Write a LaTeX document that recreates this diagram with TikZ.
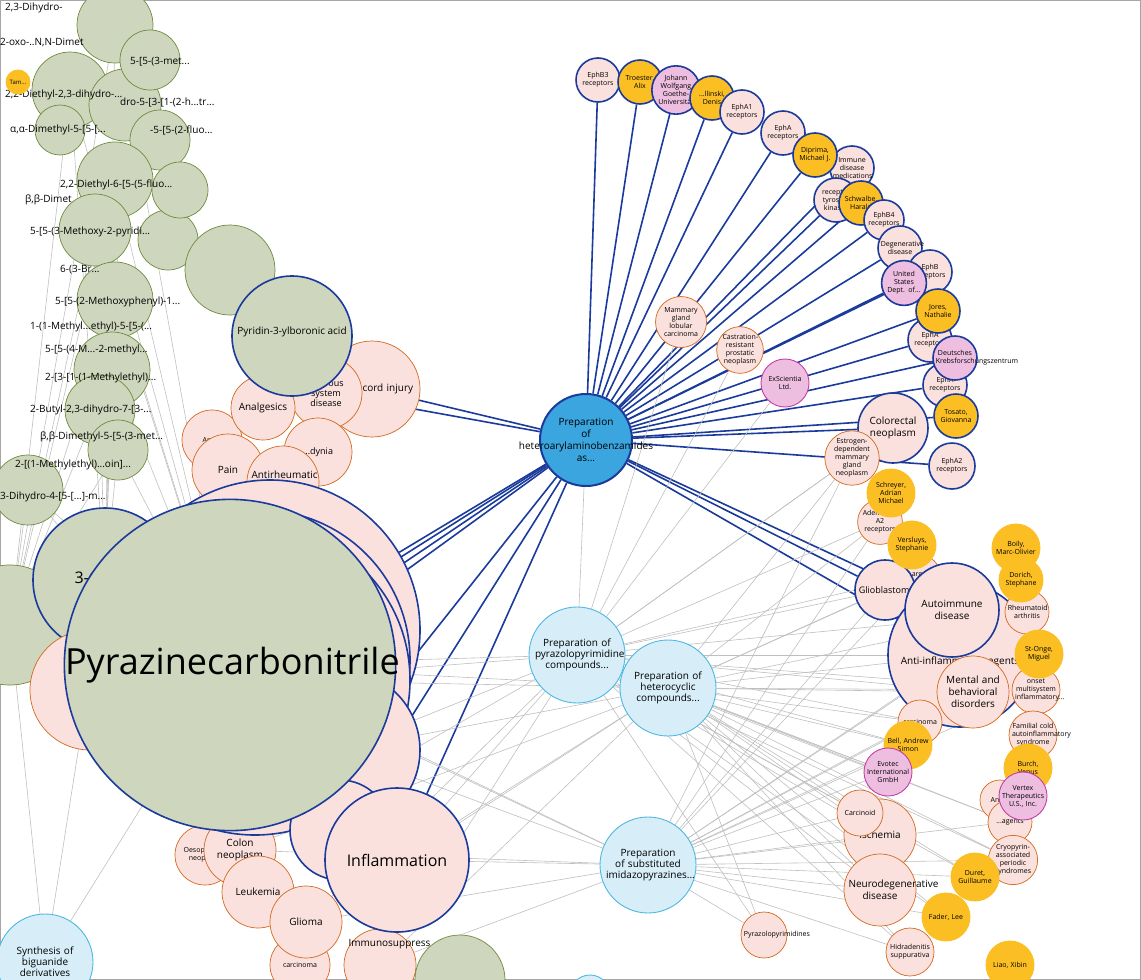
\documentclass[tikz,border=0pt]{standalone}
\usepackage{fontspec}
\setmainfont{Open Sans}
\pgfdeclarelayer{bg}
\pgfsetlayers{bg,main}
\definecolor{pinkc}{HTML}{FBE1DD}
\definecolor{orng}{HTML}{D2691E}
\definecolor{grn}{HTML}{CED6BD}
\definecolor{grnd}{HTML}{6E8B3D}
\definecolor{dblue}{HTML}{1A3A9C}
\definecolor{lblue}{HTML}{D7EEF8}
\definecolor{lblued}{HTML}{4DB8E2}
\definecolor{yel}{HTML}{FBBF24}
\definecolor{purp}{HTML}{EEBEE0}
\definecolor{purpd}{HTML}{C23FA8}
\definecolor{hubc}{HTML}{3AA5DE}
\tikzset{
  nd/.style={circle,inner sep=0pt,align=center,line width=0.9pt,font=\fontsize{7}{8}\selectfont,
    execute at begin node={\hyphenpenalty=10000}},
  rad/.style={minimum size={2*#1pt},text width={1.75*#1pt}},
  pk/.style={nd,draw=orng,fill=pinkc,line width=0.7pt},
  pkb/.style={nd,draw=dblue,fill=pinkc,line width=1.6pt},
  gr/.style={nd,draw=grnd,fill=grn,line width=0.7pt},
  grb/.style={nd,draw=dblue,fill=grn,line width=1.6pt},
  lb/.style={nd,draw=lblued,fill=lblue,font=\fontsize{10}{11}\selectfont},
  ye/.style={nd,draw=yel,fill=yel},
  pu/.style={nd,draw=purpd,fill=purp},
  pud/.style={nd,draw=dblue,fill=purp,line width=1.6pt},
  yed/.style={nd,draw=dblue,fill=yel,line width=1.6pt},
  lbl/.style={anchor=west,font=\fontsize{10}{11}\selectfont,inner sep=0pt},
  wide/.style={label={[align=center,inner sep=0pt]center:#1}},
  bl/.style={draw=dblue,line width=1.6pt},
  gy/.style={draw=gray!50,line width=0.6pt}
}
\begin{document}
\begin{tikzpicture}[x=1pt,y=-1pt]
\useasboundingbox (0,0) rectangle (1141,980);
\draw[gray!70] (0.5,0.5) rectangle (1140.5,979.5);
% left green cluster
\foreach \x/\y/\r [count=\i] in {115/25/38,70/90/38,125/105/36,160/140/30,115/180/38,95/230/36,168/240/30,
  115/300/38,112/370/38,100/410/35,118/450/30,28/490/35,150/60/30,180/190/28,60/130/25}
  \node[gr,rad=\r] (g\i) at (\x,\y) {};
\node[lbl] (t1) at (5,8) {2,3-Dihydro-};
\node[lbl] (t2) at (0,42) {2-oxo-..N,N-Dimet};
\node[lbl] (t3) at (130,62) {5-[5-(3-met...};
\node[lbl] (t4) at (5,95) {2,2-Diethyl-2,3-dihydro-...};
\node[lbl] (t5) at (120,102) {dro-5-[3-[1-(2-h...tr...};
\node[lbl] (t6) at (10,130) {α,α-Dimethyl-5-[5-[...};
\node[lbl] (t7) at (150,130) {-5-[5-(2-fluo...};
\node[lbl] (t8) at (60,185) {2,2-Diethyl-6-[5-(5-fluo...};
\node[lbl] (t9) at (25,200) {β,β-Dimet};
\node[lbl] (t10) at (30,232) {5-[5-(3-Methoxy-2-pyridi...};
\node[lbl] (t11) at (60,270) {6-(3-Br...};
\node[lbl] (t12) at (55,302) {5-[5-(2-Methoxyphenyl)-1...};
\node[lbl] (t13) at (30,327) {1-(1-Methyl...ethyl)-5-[5-(...};
\node[lbl] (t14) at (45,350) {5-[5-(4-M...-2-methyl...};
\node[lbl] (t15) at (45,378) {2-[3-[1-(1-Methylethyl)...};
\node[lbl] (t16) at (30,410) {2-Butyl-2,3-dihydro-7-[3-...};
\node[lbl] (t17) at (40,437) {β,β-Dimethyl-5-[5-(3-met...};
\node[lbl] (t18) at (15,465) {2-[(1-Methylethyl)...oin]...};
\node[lbl] (t19) at (0,497) {3-Dihydro-4-[5-[...]-m...};
\node[ye,rad=12,font=\fontsize{6}{7}\selectfont] (tam) at (18,82) {Tam...};
% left pink cluster
\node[pk,rad=48,font=\fontsize{10}{12}\selectfont] (spinal) at (372,389) {Spinal cord injury};
\node[pk,rad=36,font=\fontsize{9}{10}\selectfont] (nervous) at (326,393) {Nervous system disease};
\node[pk,rad=30] (antix) at (212,440) {Anti...};
\node[pk,rad=34,font=\fontsize{9}{10}\selectfont] (dynia) at (318,452) {...dynia};
\node[pk,rad=32,font=\fontsize{10}{11}\selectfont] (analg) at (263,408) {Analgesics};
\node[pk,rad=36,font=\fontsize{10}{11}\selectfont] (pain) at (228,470) {Pain};
\node[pk,rad=36,font=\fontsize{10}{12}\selectfont] (antirh) at (283,482) {Antirheumatic agents};
\node[gr,rad=45] (g20) at (230,270) {};
\node[grb,rad=60,font=\fontsize{12}{14}\selectfont,wide={\\[-100pt]Pyridin-3-ylboronic acid}] (pyridin) at (292,336) {};
\node[pk,rad=30] (oeso) at (205,855) {Oesophageal neoplasm};
\node[pk,rad=36,font=\fontsize{10}{12}\selectfont] (colon) at (240,850) {Colon neoplasm};
\node[pk,rad=36,font=\fontsize{10}{11}\selectfont] (leuk) at (258,892) {Leukemia};
\node[pk,rad=30] (carc) at (300,965) {carcinoma};
\node[pk,rad=36,font=\fontsize{10}{11}\selectfont] (glioma) at (306,922) {Glioma};
\node[pk,rad=36,font=\fontsize{10}{11}\selectfont] (immuno) at (380,965) {\\[-30pt]Immunosuppress};
\node[gr,rad=45] (g21) at (460,980) {};
\node[gr,rad=60] (g22) at (10,625) {};
\node[grb,rad=72,font=\fontsize{16}{18}\selectfont] (cyano) at (105,580) {3-Cyano};
\node[pk,rad=60] (pkA) at (90,690) {};
\node[pkb,rad=150] (bigA) at (270,630) {};
\node[pkb,rad=150] (bigB) at (260,660) {};
\node[pkb,rad=155] (bigC) at (255,680) {};
\node[pkb,rad=80] (bigD) at (340,750) {};
\node[pkb,rad=50] (bigE) at (340,830) {};
\node[grb,rad=135,font=\fontsize{36}{40}\selectfont,text width=330pt] (pyraz) at (230,665) {Pyrazinecarbonitrile};
\node[pkb,rad=72,font=\fontsize{16}{18}\selectfont] (inflam) at (397,860) {Inflammation};
% hub and right nodes
\node[nd,draw=dblue,fill=hubc,line width=2pt,rad=46,font=\fontsize{9}{10}\selectfont,wide={Preparation\\of\\heteroarylaminobenzamides\\as...}] (hub) at (586,440) {};
\node[pkb,rad=22] (ephbthree) at (598,80) {EphB3 receptors};
\node[yed,rad=22] (troester) at (640,82) {Troester, Alix};
\node[pud,rad=22] (goethe) at (676,90) {Johann Wolfgang Goethe-Universität};
\node[yed,rad=22] (jelinski) at (712,98) {...llinski, Denis};
\node[pkb,rad=22] (ephaone) at (742,112) {EphA1 receptors};
\node[pkb,rad=22] (epha) at (783,133) {EphA receptors};
\node[pkb,rad=22] (immune) at (852,168) {Immune disease medications};
\node[yed,rad=22] (diprima) at (815,155) {Diprima, Michael J.};
\node[pkb,rad=22] (rtk) at (836,200) {receptor tyrosine kinases};
\node[yed,rad=22] (schwalbe) at (861,203) {Schwalbe, Harald};
\node[pkb,rad=20] (ephbfour) at (884,220) {EphB4 receptors};
\node[pkb,rad=22] (degen) at (900,248) {Degenerative disease};
\node[pkb,rad=22] (ephb) at (930,272) {EphB receptors};
\node[pud,rad=22] (usdept) at (904,283) {United States Dept. of...};
\node[pkb,rad=22] (ephax) at (930,340) {EphA receptors};
\node[yed,rad=22] (jores) at (938,311) {Jores, Nathalie};
\node[pkb,rad=22] (ephay) at (945,385) {EphA receptors};
\node[pud,rad=22] (dkfz) at (955,358) {Deutsches Krebsforschungszentrum};
\node[yed,rad=22] (tosato) at (956,416) {Tosato, Giovanna};
\node[pkb,rad=35,font=\fontsize{10}{12}\selectfont] (colorectal) at (893,428) {Colorectal neoplasm};
\node[pkb,rad=23] (ephatwo) at (952,466) {EphA2 receptors};
\node[pk,rad=22] (estrogen) at (852,458) {Estrogen-dependent mammary gland neoplasm};
\node[pk,rad=24] (mammary) at (681,322) {Mammary gland lobular carcinoma};
\node[pk,rad=20] (castration) at (740,350) {Castration-resistant prostatic neoplasm};
\node[pu,rad=24] (exscientia) at (785,383) {ExScientia Ltd.};
% right lower cluster
\node[pk,rad=22] (adeno) at (880,522) {Adenosine A2 receptors};
\node[ye,rad=24] (schreyer) at (891,493) {Schreyer, Adrian Michael};
\node[pk,rad=20] (large) at (920,575) {Large...};
\node[pkb,rad=30,font=\fontsize{9}{10}\selectfont] (glio) at (885,590) {Glioblastoma};
\node[ye,rad=24] (versluys) at (912,545) {Versluys, Stephanie};
\node[pkb,rad=72,font=\fontsize{12}{14}\selectfont,wide={\\[10pt]Anti-inflammatory agents}] (antiinf) at (960,655) {};
\node[pk,rad=36,font=\fontsize{10}{12}\selectfont] (mental) at (973,692) {Mental and behavioral disorders};
\node[pkb,rad=47,font=\fontsize{10}{12}\selectfont] (autoimm) at (952,610) {Autoimmune disease};
\node[pk,rad=22] (rheum) at (1027,612) {Rheumatoid arthritis};
\node[ye,rad=24] (boily) at (1016,548) {Boily, Marc-Olivier};
\node[ye,rad=22] (dorich) at (1021,580) {Dorich, Stephane};
\node[pk,rad=24] (onset) at (1036,690) {onset multisystem inflammatory...};
\node[ye,rad=24] (stonge) at (1039,654) {St-Onge, Miguel};
\node[pk,rad=24] (familial) at (1033,735) {Familial cold autoinflammatory syndrome};
\node[pk,rad=22] (carcb) at (920,722) {carcinoma};
\node[ye,rad=24] (bell) at (908,745) {Bell, Andrew Simon};
\node[pu,rad=24] (evotec) at (888,772) {Evotec International GmbH};
\node[pk,rad=20] (antiy) at (1000,800) {Anti...};
\node[pk,rad=22] (agents) at (1010,822) {...agents};
\node[ye,rad=24] (burch) at (1028,768) {Burch, Venus};
\node[pu,rad=24] (vertex) at (1023,796) {Vertex Therapeutics U.S., Inc.};
\node[pk,rad=22] (cryo) at (1013,860) {Cryopyrin-associated periodic syndromes};
\node[pk,rad=36,font=\fontsize{10}{11}\selectfont] (ischemia) at (880,835) {Ischemia};
\node[pk,rad=23] (carcinoid) at (860,813) {Carcinoid};
\node[pk,rad=36,font=\fontsize{10}{12}\selectfont] (neuro) at (880,890) {Neurodegenerative disease};
\node[ye,rad=24] (duret) at (975,877) {Duret, Guillaume};
\node[ye,rad=24] (fader) at (946,917) {Fader, Lee};
\node[pk,rad=24] (hidra) at (910,952) {Hidradenitis suppurativa};
\node[ye,rad=24] (liao) at (1010,965) {Liao, Xibin};
\node[pk,rad=23] (pyrpyr) at (764,935) {Pyrazolopyrimidines};
% light blue documents
\node[lb,rad=48] (prepA) at (577,655) {Preparation of pyrazolopyrimidine compounds...};
\node[lb,rad=48] (prepB) at (668,688) {Preparation of heterocyclic compounds...};
\node[lb,rad=48] (prepC) at (648,865) {Preparation of substituted imidazopyrazines...};
\node[lb,rad=48] (synth) at (45,962) {Synthesis of biguanide derivatives};
\node[lb,rad=20] (prepD) at (590,995) {};
% connectors
\begin{pgfonlayer}{bg}
\foreach \t in {ephbthree,troester,goethe,jelinski,ephaone,epha,diprima,immune,rtk,schwalbe,ephbfour,degen,ephb,usdept,jores,ephax,dkfz,ephay,tosato,colorectal,ephatwo,spinal,nervous,bigA,bigB,bigC,bigD,bigE,pyraz,inflam,glio,autoimm,antiinf}
  \draw[bl] (hub) -- (\t);
\foreach \s in {prepA,prepB,prepC}
  \foreach \t in {pyraz,bigC,bigD,inflam,colon,glioma,immuno,glio,antiinf,mental,carcb,evotec,ischemia,neuro,carcinoid,hidra,pyrpyr,fader,duret,cryo,agents,bell,onset,rheum,large,adeno,estrogen}
    \draw[gy] (\s) -- (\t);
\foreach \s in {pyraz,cyano,g22}
  \foreach \t in {g1,g2,g5,g8,g9,g11,g12,synth,g6}
    \draw[gy] (\s) -- (\t);
\foreach \t in {mammary,castration,exscientia,estrogen,hub}
  \draw[gy] (prepA) -- (\t);
\end{pgfonlayer}
\end{tikzpicture}
\end{document}
